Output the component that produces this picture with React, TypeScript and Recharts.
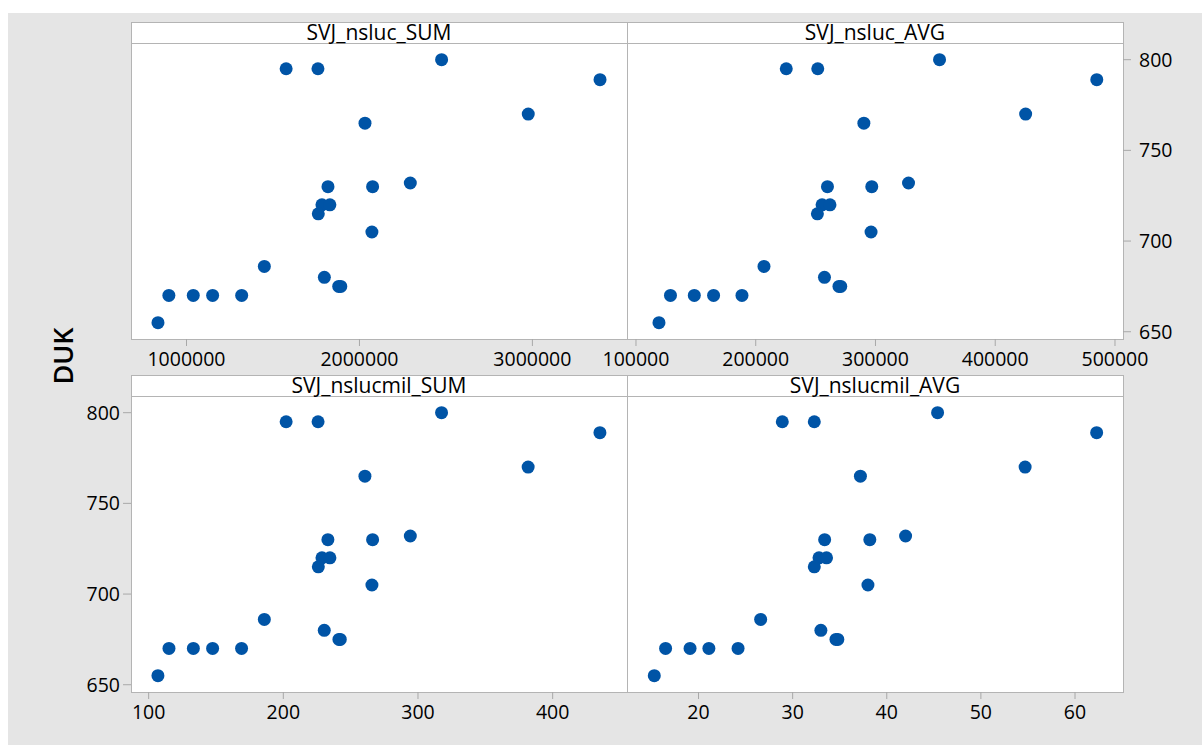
import { ScatterChart, Scatter, XAxis, YAxis } from "recharts";

// DUK against four SVJ measures, one row per observation
const DUK = [655, 670, 670, 670, 670, 686, 795, 795, 800, 789, 770, 765, 730, 730, 732, 720, 720, 715, 705, 680, 675, 675];
const SVJ_NSLUC_SUM = [835000, 898000, 1039000, 1151000, 1319000, 1450000, 1576000, 1760000, 2475000, 3391000, 2976000, 2032000, 1818000, 2076000, 2294000, 1783000, 1829000, 1762000, 2072000, 1797000, 1880000, 1892000];
const SVJ_NSLUC_AVG = [119200, 128800, 148700, 164800, 188500, 206900, 225500, 251800, 353500, 484800, 425400, 290300, 259900, 296900, 327600, 255400, 262000, 251500, 296300, 257400, 269500, 271000];
const SVJ_NSLUCMIL_SUM = [106.9, 115.1, 133.2, 147.5, 169.0, 185.9, 202.1, 225.8, 317.5, 435.1, 381.8, 260.6, 233.1, 266.3, 294.3, 228.7, 234.6, 226.0, 265.8, 230.4, 241.3, 242.3];
const SVJ_NSLUCMIL_AVG = [15.3, 16.5, 19.1, 21.1, 24.2, 26.6, 28.9, 32.3, 45.4, 62.3, 54.7, 37.2, 33.4, 38.2, 42.0, 32.8, 33.6, 32.3, 38.0, 33.0, 34.6, 34.8];

const X_TICKS_NSLUC_SUM = [1000000, 2000000, 3000000];
const X_TICKS_NSLUC_AVG = [100000, 200000, 300000, 400000, 500000];
const X_TICKS_NSLUCMIL_SUM = [100, 200, 300, 400];
const X_TICKS_NSLUCMIL_AVG = [20, 30, 40, 50, 60];
const Y_TICKS_DUK = [650, 700, 750, 800];

const W = 1202;
const H = 746;
const FONT = "'Open Sans', 'Noto Sans', sans-serif";
const TICK_FONT_SIZE = 19.5;
const X_AXIS_H = 40;
const Y_AXIS_W = 60;
const BORDER = "#b4b4b4";
const TICK = "#a8a8a8";
const DOT = "#0054a6";
const Y_DOMAIN: [number, number] = [646, 809.2];

type YSide = "left" | "right" | null;

type PanelDef = {
  title: string;
  xs: number[];
  xTicks: number[];
  xDomain: [number, number];
  yAxis: YSide;
  box: { left: number; right: number; top: number; strip: number; bottom: number };
};

const TOP = { top: 22, strip: 43, bottom: 339 };
const BOTTOM = { top: 375, strip: 396, bottom: 692 };

const PANELS: PanelDef[] = [
  {
    title: "SVJ_nsluc_SUM",
    xs: SVJ_NSLUC_SUM,
    xTicks: X_TICKS_NSLUC_SUM,
    xDomain: [679000, 3547000],
    yAxis: null,
    box: { left: 131, right: 627, ...TOP },
  },
  {
    title: "SVJ_nsluc_AVG",
    xs: SVJ_NSLUC_AVG,
    xTicks: X_TICKS_NSLUC_AVG,
    xDomain: [92500, 506700],
    yAxis: "right",
    box: { left: 627, right: 1123, ...TOP },
  },
  {
    title: "SVJ_nslucmil_SUM",
    xs: SVJ_NSLUCMIL_SUM,
    xTicks: X_TICKS_NSLUCMIL_SUM,
    xDomain: [86.9, 455.2],
    yAxis: "left",
    box: { left: 131, right: 627, ...BOTTOM },
  },
  {
    title: "SVJ_nslucmil_AVG",
    xs: SVJ_NSLUCMIL_AVG,
    xTicks: X_TICKS_NSLUCMIL_AVG,
    xDomain: [12.4, 65.1],
    yAxis: null,
    box: { left: 627, right: 1123, ...BOTTOM },
  },
];

function XTick(props: any) {
  const { x, y, payload } = props;
  return (
    <text
      x={x}
      y={y}
      dy="0.71em"
      textAnchor="middle"
      fontSize={TICK_FONT_SIZE}
      fontFamily={FONT}
      fill="#000"
    >
      {payload.value}
    </text>
  );
}

function YTick(props: any) {
  const { x, y, payload, textAnchor } = props;
  return (
    <text
      x={x}
      y={y}
      dy="0.36em"
      textAnchor={textAnchor}
      fontSize={TICK_FONT_SIZE}
      fontFamily={FONT}
      fill="#000"
    >
      {payload.value}
    </text>
  );
}

function PanelFrame({ p }: { p: PanelDef }) {
  const b = p.box;
  return (
    <>
      <div
        style={{
          position: "absolute",
          left: b.left,
          top: b.top,
          width: b.right - b.left + 1,
          height: b.bottom - b.top + 1,
          boxSizing: "border-box",
          border: `1px solid ${BORDER}`,
          background: "#fff",
        }}
      />
      <div
        style={{
          position: "absolute",
          left: b.left,
          top: b.strip,
          width: b.right - b.left + 1,
          height: 1,
          background: BORDER,
        }}
      />
      <div
        style={{
          position: "absolute",
          left: b.left,
          top: b.top,
          width: b.right - b.left,
          height: b.strip - b.top,
          lineHeight: `${b.strip - b.top}px`,
          textAlign: "center",
          fontFamily: FONT,
          fontSize: 21,
          color: "#000",
          whiteSpace: "nowrap",
        }}
      >
        {p.title}
      </div>
    </>
  );
}

function PanelChart({ p }: { p: PanelDef }) {
  const b = p.box;
  const data = p.xs.map((x, i) => ({ x, y: DUK[i] }));
  const margin = {
    top: b.strip,
    bottom: H - b.bottom - X_AXIS_H,
    left: p.yAxis === "left" ? b.left - Y_AXIS_W : b.left,
    right: p.yAxis === "right" ? W - b.right - Y_AXIS_W : W - b.right,
  };
  return (
    <div style={{ position: "absolute", left: 0, top: 0 }}>
      <ScatterChart width={W} height={H} margin={margin}>
        <XAxis
          type="number"
          dataKey="x"
          domain={p.xDomain}
          ticks={p.xTicks}
          interval={0}
          allowDataOverflow
          height={X_AXIS_H}
          axisLine={false}
          tickLine={{ stroke: TICK }}
          tickSize={7}
          tickMargin={6}
          tick={<XTick />}
        />
        <YAxis
          type="number"
          dataKey="y"
          domain={Y_DOMAIN}
          ticks={Y_TICKS_DUK}
          interval={0}
          allowDataOverflow
          hide={!p.yAxis}
          orientation={p.yAxis ?? "left"}
          width={Y_AXIS_W}
          axisLine={false}
          tickLine={{ stroke: TICK }}
          tickSize={8}
          tickMargin={p.yAxis === "right" ? 8 : 3}
          tick={<YTick />}
        />
        <Scatter
          data={data}
          fill={DOT}
          isAnimationActive={false}
          shape={(props: any) => (
            <circle cx={props.cx} cy={props.cy} r={6.5} fill={DOT} />
          )}
        />
      </ScatterChart>
    </div>
  );
}

export default function App() {
  return (
    <div
      style={{
        position: "absolute",
        left: 0,
        top: 0,
        width: W,
        height: H,
        background: "#fff",
        overflow: "hidden",
      }}
    >
      <div
        style={{
          position: "absolute",
          left: 8,
          top: 13,
          width: W - 8,
          height: 732,
          background: "#e5e5e5",
        }}
      />
      {PANELS.map((p) => (
        <PanelFrame key={p.title + "-frame"} p={p} />
      ))}
      <div
        style={{
          position: "absolute",
          left: 62,
          top: 356,
          transform: "translate(-50%, -50%) rotate(-90deg)",
          fontFamily: FONT,
          fontSize: 27,
          fontWeight: 600,
          color: "#000",
          whiteSpace: "nowrap",
        }}
      >
        DUK
      </div>
      {PANELS.map((p) => (
        <PanelChart key={p.title} p={p} />
      ))}
    </div>
  );
}
